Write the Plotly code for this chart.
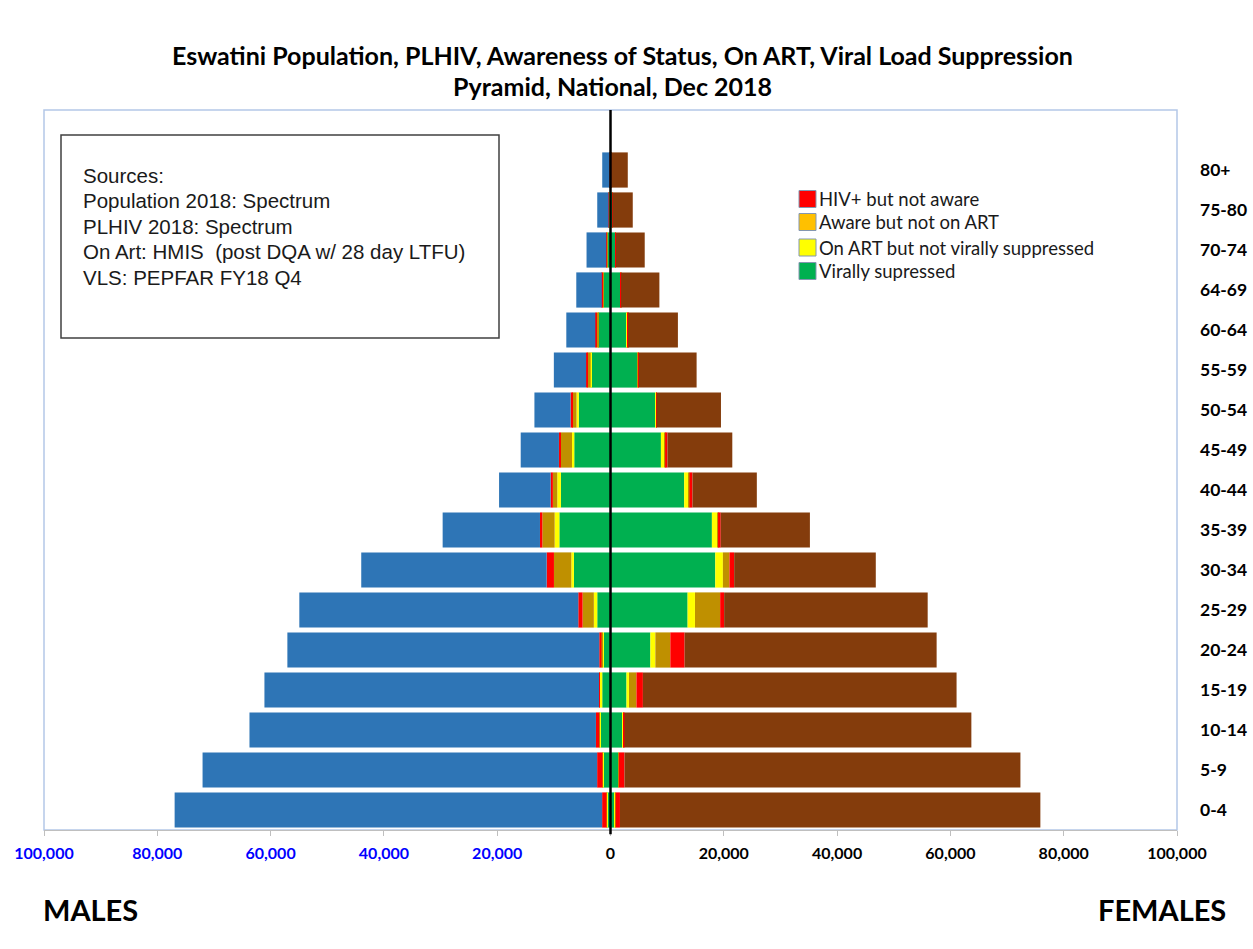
import plotly.graph_objects as go

# Age groups, bottom to top
age_groups = ["0-4", "5-9", "10-14", "15-19", "20-24", "25-29", "30-34", "35-39",
              "40-44", "45-49", "50-54", "55-59", "60-64", "64-69", "70-74", "75-80", "80+"]

# Males
male_suppressed = [580, 1290, 1760, 1460, 1180, 2340, 6460, 9030, 8750, 6400, 5600, 3400, 2100, 1180, 470, 250, 100]
male_art_not_supp = [100, 100, 180, 470, 230, 600, 460, 830, 650, 400, 400, 100, 50, 50, 30, 20, 10]
male_aware_no_art = [30, 30, 50, 50, 180, 1990, 3060, 2170, 770, 1950, 750, 600, 300, 200, 150, 50, 20]
male_not_aware = [770, 940, 580, 50, 400, 760, 1290, 420, 400, 350, 300, 200, 230, 100, 100, 30, 20]
male_hiv_neg = [75460, 69650, 61160, 59060, 55050, 49240, 32730, 17180, 9100, 6750, 6380, 5700, 5120, 4510, 3480, 1990, 1310]

# Females
female_suppressed = [700, 1350, 2050, 2820, 7040, 13610, 18490, 17900, 13000, 8900, 7900, 4700, 2900, 1760, 880, 300, 100]
female_art_not_supp = [180, 100, 280, 440, 880, 1300, 1350, 990, 760, 600, 150, 150, 100, 50, 30, 20, 10]
female_aware_no_art = [30, 30, 50, 1320, 2640, 4450, 1160, 100, 180, 150, 50, 100, 50, 30, 30, 20, 10]
female_not_aware = [760, 990, 80, 1140, 2520, 700, 830, 470, 530, 400, 50, 50, 50, 30, 20, 20, 10]
female_hiv_neg = [74210, 69890, 61240, 55370, 44490, 35930, 25000, 15740, 11360, 11450, 11350, 10200, 8800, 6760, 5080, 3570, 2920]

legend_labels = ["HIV+ but not aware", "Aware but not on ART",
                 "On ART but not virally suppressed", "Virally supressed"]

x_ticks = [-100000, -80000, -60000, -40000, -20000, 0, 20000, 40000, 60000, 80000, 100000]

source_lines = ["Sources:",
                "Population 2018: Spectrum",
                "PLHIV 2018: Spectrum",
                "On Art: HMIS  (post DQA w/ 28 day LTFU)",
                "VLS: PEPFAR FY18 Q4"]

C_BLUE = "#2E75B6"
C_BROWN = "#843C0C"
C_GREEN = "#00B050"
C_YELLOW = "#FFFF00"
C_GOLD = "#BF9000"
C_RED = "#FF0000"
LEGEND_COLORS = [C_RED, "#FFC000", C_YELLOW, C_GREEN]

W, H = 1253, 949
L, R, T, B = 44, 76, 110, 119
PW, PH = W - L - R, H - T - B


def px(xp):
    return (xp - L) / PW


def py(yp):
    return (H - B - yp) / PH


def tick_text(v):
    # male side shown as positive counts in blue
    if v < 0:
        return f"<span style='color:#0000FF'>{-v:,}</span>"
    return f"{v:,}"


fig = go.Figure()

male_series = [(male_suppressed, C_GREEN), (male_art_not_supp, C_YELLOW),
               (male_aware_no_art, C_GOLD), (male_not_aware, C_RED), (male_hiv_neg, C_BLUE)]
female_series = [(female_suppressed, C_GREEN), (female_art_not_supp, C_YELLOW),
                 (female_aware_no_art, C_GOLD), (female_not_aware, C_RED), (female_hiv_neg, C_BROWN)]

for vals, col in male_series:
    fig.add_trace(go.Bar(y=age_groups, x=[-v for v in vals], orientation="h",
                         marker=dict(color=col, line=dict(width=0)), showlegend=False))
for vals, col in female_series:
    fig.add_trace(go.Bar(y=age_groups, x=vals, orientation="h",
                         marker=dict(color=col, line=dict(width=0)), showlegend=False))

fig.update_layout(
    width=W, height=H,
    margin=dict(l=L, r=R, t=T, b=B, autoexpand=False),
    paper_bgcolor="white", plot_bgcolor="white",
    barmode="relative", bargap=0.12,
    font=dict(family="Lato", color="black"),
    xaxis=dict(range=[-100000, 100000], tickvals=x_ticks,
               ticktext=[tick_text(v) for v in x_ticks],
               tickfont=dict(family="Lato", size=16, color="black", weight="bold"),
               ticks="outside", ticklen=5, tickcolor="#BFBFBF",
               showline=True, linecolor="#BFBFBF", linewidth=1, automargin=False,
               showgrid=False, zeroline=False, ticklabelstandoff=4, fixedrange=True),
    yaxis=dict(type="category", categoryorder="array", categoryarray=age_groups,
               range=[-0.5, 17.5], side="right", showgrid=False, zeroline=False,
               showline=False, ticks="", ticklabelstandoff=22, automargin=False,
               tickfont=dict(family="Lato", size=17.5, color="black", weight="bold")),
)

# plot-area frame
fig.add_shape(type="rect", xref="paper", yref="paper", x0=0, x1=1, y0=0, y1=1,
              line=dict(color="#B4C7E7", width=1.5), layer="below")

# centre line at zero
fig.add_shape(type="line", xref="x", yref="paper", x0=0, x1=0, y0=-0.006, y1=1,
              line=dict(color="black", width=2.5))

# title
fig.add_annotation(text="<b>Eswatini Population, PLHIV, Awareness of Status, On ART, Viral Load Suppression</b>",
                   xref="paper", yref="paper", x=px(622), y=py(55), showarrow=False,
                   xanchor="center", yanchor="middle", font=dict(family="Lato", size=25, color="black"))
fig.add_annotation(text="<b>Pyramid, National, Dec 2018</b>",
                   xref="paper", yref="paper", x=px(612), y=py(86), showarrow=False,
                   xanchor="center", yanchor="middle", font=dict(family="Lato", size=25, color="black"))

# sources box
fig.add_shape(type="rect", xref="paper", yref="paper", x0=px(61), x1=px(499), y0=py(338), y1=py(135),
              line=dict(color="#404040", width=1.5), fillcolor="white")
for i, line in enumerate(source_lines):
    fig.add_annotation(text=line, xref="paper", yref="paper", x=px(81), y=py(175 + i * 25.5),
                       showarrow=False, xanchor="left", yanchor="middle",
                       font=dict(family="Liberation Sans", size=20.5, color="#1a1a1a"))

# legend
legend_rows = [199, 222, 247.5, 271]
for lbl, col, yc in zip(legend_labels, LEGEND_COLORS, legend_rows):
    fig.add_shape(type="rect", xref="paper", yref="paper", x0=px(799), x1=px(816),
                  y0=py(yc + 8.5), y1=py(yc - 8.5), fillcolor=col,
                  line=dict(color="#8497B0", width=1))
    fig.add_annotation(text=lbl, xref="paper", yref="paper", x=px(817), y=py(yc),
                       showarrow=False, xanchor="left", yanchor="middle",
                       font=dict(family="Lato", size=18.5, color="#1a1a1a"))

# side captions
fig.add_annotation(text="<b>MALES</b>", xref="paper", yref="paper", x=px(41), y=py(909),
                   showarrow=False, xanchor="left", yanchor="middle",
                   font=dict(family="Lato", size=29, color="black"))
fig.add_annotation(text="<b>FEMALES</b>", xref="paper", yref="paper", x=px(1228), y=py(909),
                   showarrow=False, xanchor="right", yanchor="middle",
                   font=dict(family="Lato", size=29, color="black"))

fig.write_html("out.html")
